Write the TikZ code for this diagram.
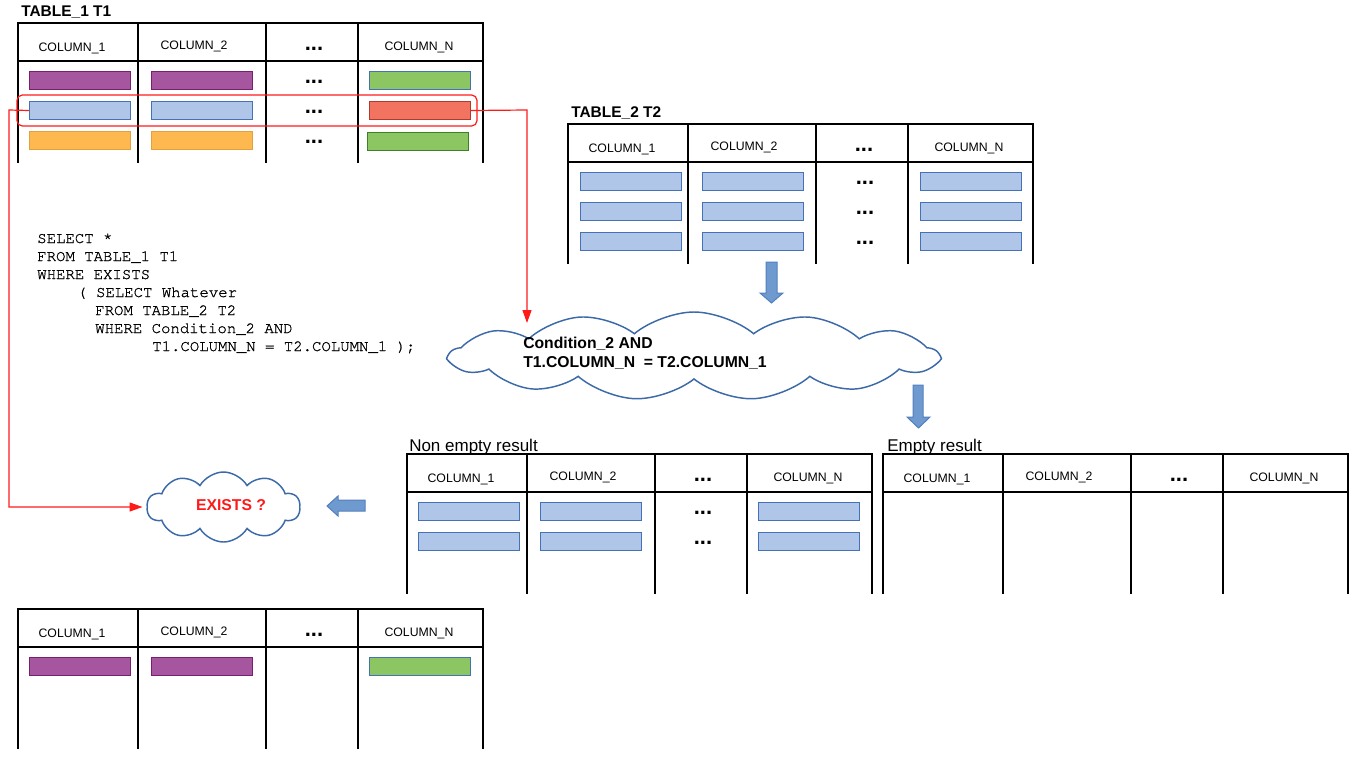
\documentclass[tikz,border=0pt]{standalone}
\usepackage{fontspec}
\setmainfont{Liberation Sans}
\newfontfamily\sqlfont{TeX Gyre Cursor}[FakeBold=1.0]
\usetikzlibrary{shapes.symbols,arrows.meta}
\definecolor{purfill}{HTML}{A6559F}
\definecolor{purdraw}{HTML}{7A1E6E}
\definecolor{bluefill}{HTML}{AFC6E8}
\definecolor{bluedraw}{HTML}{4471B8}
\definecolor{grnfill}{HTML}{8CC663}
\definecolor{grndraw}{HTML}{3E7F28}
\definecolor{salfill}{HTML}{F2735F}
\definecolor{saldraw}{HTML}{B03A2E}
\definecolor{orafill}{HTML}{FDB94F}
\definecolor{oradraw}{HTML}{E3A13D}
\definecolor{arrfill}{HTML}{6F9ACF}
\definecolor{arrdraw}{HTML}{5380BD}
\definecolor{clouddraw}{HTML}{3C6AA8}
\definecolor{redl}{HTML}{FF1A1A}
\newcommand\fhead{\fontsize{9.2}{10}\selectfont}
\newcommand\ftitle{\fontsize{11.6}{13}\selectfont\bfseries}
\newcommand\fres{\fontsize{12.75}{14}\selectfont}
\newcommand\fcloud{\fontsize{11.8}{14}\selectfont\bfseries}
\newcommand\fsql{\fontsize{11.75}{13.5}\selectfont\sqlfont}
\newcommand\fdots{\fontsize{16.5}{18}\selectfont\bfseries}
\tikzset{
  tline/.style={line width=1.1pt, black, line cap=rect},
  headt/.style={anchor=base, inner sep=0pt, font=\fhead},
  dotst/.style={anchor=base, inner sep=0pt, font=\fdots},
  titlet/.style={anchor=base west, inner sep=0pt, font=\ftitle},
  rest/.style={anchor=base west, inner sep=0pt, font=\fres},
  sqlt/.style={anchor=base west, inner sep=0pt, font=\fsql},
  condt/.style={anchor=base west, inner sep=0pt, font=\fcloud},
  bar/.style={anchor=north west, inner sep=0pt, line width=0.75pt, minimum width=75.75pt, minimum height=13.5pt},
  purbar/.style={bar, fill=purfill, draw=purdraw},
  bluebar/.style={bar, fill=bluefill, draw=bluedraw},
  grnbar/.style={bar, fill=grnfill, draw=bluedraw},
  grnbarB/.style={bar, fill=grnfill, draw=grndraw},
  salbar/.style={bar, fill=salfill, draw=saldraw},
  orabar/.style={bar, fill=orafill, draw=oradraw},
  blockarrow/.style={fill=arrfill, draw=arrdraw, line width=0.75pt, line join=miter},
  cloudst/.style={shape=cloud, draw=clouddraw, fill=white, line width=1.1pt, inner sep=0pt},
  redline/.style={draw=redl, line width=0.9pt},
  redarrow/.style={redline, -{Triangle[length=9.75pt,width=6.75pt]}},
}
\newcommand\tframe[2]{%
  \draw[tline] (#1,#2) -- (#1+465,#2);
  \draw[tline] (#1,#2+38) -- (#1+465,#2+38);
  \foreach \o in {0,120,248,340,465} {\draw[tline] (#1+\o,#2) -- (#1+\o,#2+139);}
}
\newcommand\theader[3]{%
  \node[headt] (#1h1) at (#2+54,#3+28) {COLUMN\_1};
  \node[headt] (#1h2) at (#2+176,#3+26.5) {COLUMN\_2};
  \node[dotst] (#1h3) at (#2+296,#3+27) {...};
  \node[headt] (#1h4) at (#2+401,#3+27) {COLUMN\_N};
}
\begin{document}
\begin{tikzpicture}[x=0.75pt,y=-0.75pt]
\useasboundingbox (0,0) rectangle (1360,768);

% ---------- TABLE_1 ----------
\node[titlet] (t1title) at (21,16) {TABLE\_1 T1};
\tframe{18}{23}
\theader{ta}{18}{23}
\node[purbar] (ta11) at (29,71) {};
\node[purbar] (ta12) at (151,71) {};
\node[grnbar] (ta1n) at (369,71) {};
\node[bluebar] (ta21) at (29,101) {};
\node[bluebar] (ta22) at (151,101) {};
\node[salbar] (ta2n) at (369,101) {};
\node[orabar] (ta31) at (29,131) {};
\node[orabar] (ta32) at (151,131) {};
\node[grnbarB] (ta3n) at (367,132) {};
\node[dotst] (tad1) at (314,83) {...};
\node[dotst] (tad2) at (314,113) {...};
\node[dotst] (tad3) at (314,143) {...};
\node[draw=redl, line width=0.9pt, rounded corners=4pt, minimum width=345pt, minimum height=23.25pt, inner sep=0pt] (selrow) at (247,110.5) {};

% ---------- TABLE_2 ----------
\node[titlet] (t2title) at (571,117) {TABLE\_2 T2};
\tframe{568}{124}
\theader{tb}{568}{124}
\foreach \r/\yy in {1/172,2/202,3/232}{
  \node[bluebar] (tb\r1) at (580,\yy) {};
  \node[bluebar] (tb\r2) at (702,\yy) {};
  \node[bluebar] (tb\r n) at (920,\yy) {};
  \node[dotst] (tbd\r) at (865,\yy+12) {...};
}

% ---------- SQL ----------
\node[sqlt] (sql1) at (37,243) {SELECT *};
\node[sqlt] (sql2) at (37,261) {FROM TABLE\_1 T1};
\node[sqlt] (sql3) at (37,279) {WHERE EXISTS};
\node[sqlt] (sql4) at (77,297) {( SELECT Whatever};
\node[sqlt] (sql5) at (95,315) {FROM TABLE\_2 T2};
\node[sqlt] (sql6) at (95,333) {WHERE Condition\_2 AND};
\node[sqlt] (sql7) at (152,351) {T1.COLUMN\_N = T2.COLUMN\_1 );};

% ---------- block arrows ----------
\draw[blockarrow] (766,262) -- (777,262) -- (777,293) -- (783,293) -- (771.5,303) -- (760,293) -- (766,293) -- cycle;
\draw[blockarrow] (913,385) -- (923,385) -- (923,417) -- (930,417) -- (918.5,428) -- (907,417) -- (913,417) -- cycle;
\draw[blockarrow] (365,500) -- (338,500) -- (338,496) -- (327,506) -- (338,516) -- (338,511) -- (365,511) -- cycle;

% ---------- clouds ----------
\node[cloudst, cloud puffs=13, cloud puff arc=80, aspect=5.5, minimum width=366pt, minimum height=66pt] (cond) at (694,356) {};
\node[condt] (condA) at (523,348) {Condition\_2 AND};
\node[condt] (condB) at (523,367) {T1.COLUMN\_N\ \ = T2.COLUMN\_1};
\node[cloudst, cloud puffs=10, cloud puff arc=120, aspect=2.2, minimum width=114.75pt, minimum height=52.5pt] (exists) at (223.5,507) {};
\node[anchor=center, inner sep=0pt, font=\fcloud, text=redl] (existst) at (231,505) {EXISTS ?};

% ---------- red connectors ----------
\coordinate (lcorner) at (9,110);
\coordinate (rcorner) at (527,110);
\coordinate (condtop) at (527,323);
\draw[redarrow, shorten >=3pt] (ta21.west) -- (lcorner) |- (exists.west);
\draw[redarrow] (ta2n.east) -- (rcorner) -- (condtop);

% ---------- Non empty result ----------
\node[rest] (netitle) at (409,451) {Non empty result};
\tframe{407}{454}
\theader{tc}{407}{454}
\foreach \r/\yy in {1/502,2/532}{
  \node[bluebar] (tc\r1) at (418,\yy) {};
  \node[bluebar] (tc\r2) at (540,\yy) {};
  \node[bluebar] (tc\r n) at (758,\yy) {};
  \node[dotst] (tcd\r) at (703,\yy+12) {...};
}

% ---------- Empty result ----------
\node[rest] (etitle) at (887,451) {Empty result};
\tframe{883}{454}
\theader{td}{883}{454}

% ---------- bottom result ----------
\tframe{18}{609}
\theader{te}{18}{609}
\node[purbar] (te11) at (29,657) {};
\node[purbar] (te12) at (151,657) {};
\node[grnbar] (te1n) at (369,657) {};
\end{tikzpicture}
\end{document}
